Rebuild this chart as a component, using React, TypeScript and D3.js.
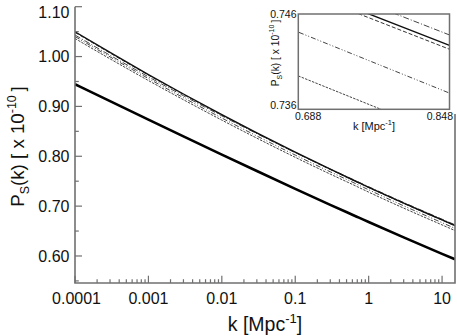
import { useEffect, useRef } from 'react';
import * as d3 from 'd3';

// k grid (Mpc^-1) and the curves, P_S in units of 1e-10
const K_VALUES = [0.0001, 0.0003, 0.001, 0.003, 0.01, 0.03, 0.1, 0.3, 0.688, 0.848, 1, 3, 10, 15];
const SOLID = [1.0497, 1.0082, 0.9639, 0.9249, 0.8835, 0.8469, 0.8081, 0.7740, 0.7489, 0.7427, 0.7378, 0.7059, 0.6723, 0.6610];
const DASHED = [1.0485, 1.0071, 0.9629, 0.9240, 0.8827, 0.8462, 0.8075, 0.7735, 0.7485, 0.7423, 0.7374, 0.7055, 0.6719, 0.6606];
const DASH_DOT = [1.0432, 1.0026, 0.9594, 0.9214, 0.8810, 0.8453, 0.8073, 0.7743, 0.7500, 0.7438, 0.7390, 0.7073, 0.6738, 0.6625];
const DASH_DOT_DOT = [1.0402, 0.9994, 0.9559, 0.9175, 0.8767, 0.8407, 0.8024, 0.7688, 0.7441, 0.7377, 0.7328, 0.7006, 0.6668, 0.6554];
const FINE_DASH = [1.0362, 0.9954, 0.9519, 0.9134, 0.8725, 0.8363, 0.7979, 0.7642, 0.7395, 0.7331, 0.7281, 0.6960, 0.6623, 0.6510];
const THICK = [0.9445, 0.9106, 0.8735, 0.8399, 0.8033, 0.7704, 0.7347, 0.7026, 0.6788, 0.6728, 0.6681, 0.6373, 0.6042, 0.5933];

const X_TICKS = [0.0001, 0.001, 0.01, 0.1, 1, 10];
const X_TICK_LABELS = ['0.0001', '0.001', '0.01', '0.1', '1', '10'];
const Y_TICKS = [0.6, 0.7, 0.8, 0.9, 1.0, 1.1];
const Y_TICK_LABELS = ['0.60', '0.70', '0.80', '0.90', '1.00', '1.10'];
const Y_MINOR = [0.55, 0.65, 0.75, 0.85, 0.95, 1.05];
const INSET_X = [0.688, 0.848];
const INSET_Y = [0.736, 0.746];

const SERIES = [
  { values: FINE_DASH, dash: '2.5,1.2', width: 1, color: '#444' },
  { values: DASH_DOT_DOT, dash: '5,2,1,2,1,2', width: 1, color: '#444' },
  { values: DASH_DOT, dash: '6,2,1,2', width: 1, color: '#444' },
  { values: DASHED, dash: '4,2', width: 1, color: '#333' },
  { values: SOLID, dash: null, width: 1.4, color: '#111' },
  { values: THICK, dash: null, width: 2.6, color: '#000' },
];

const FONT = '"Liberation Sans", Arial, sans-serif';
const AXIS = '#707070';

const App = () => {
  const svgRef = useRef(null);

  useEffect(() => {
    const width = 457;
    const height = 336;
    const plot = { left: 75, right: 455, top: 6.7, bottom: 283 };
    const inset = { left: 298.3, right: 449.5, top: 14, bottom: 109.3 };

    const svg = d3.select(svgRef.current);
    svg.selectAll('*').remove();
    svg.attr('width', width).attr('height', height);

    const x = d3.scaleLog().domain([0.0001, 15]).range([plot.left, plot.right]);
    const y = d3.scaleLinear().domain([0.5458, 1.10]).range([plot.bottom, plot.top]);

    const defs = svg.append('defs');
    defs.append('clipPath').attr('id', 'main-clip')
      .append('rect')
      .attr('x', plot.left).attr('y', plot.top)
      .attr('width', plot.right - plot.left).attr('height', plot.bottom - plot.top);
    defs.append('clipPath').attr('id', 'inset-clip')
      .append('rect')
      .attr('x', inset.left).attr('y', inset.top)
      .attr('width', inset.right - inset.left).attr('height', inset.bottom - inset.top);

    // curves
    const rows = SERIES.map(s => s.values.map((v, i) => [K_VALUES[i], v]));
    const line = d3.line()
      .x(d => x(d[0]))
      .y(d => y(d[1]))
      .curve(d3.curveMonotoneX);

    const curves = svg.append('g').attr('clip-path', 'url(#main-clip)');
    SERIES.forEach((s, i) => {
      curves.append('path')
        .attr('d', line(rows[i]))
        .attr('fill', 'none')
        .attr('stroke', s.color)
        .attr('stroke-width', s.width)
        .attr('stroke-dasharray', s.dash);
    });

    // frame (no top edge)
    const frame = svg.append('g').attr('stroke', AXIS).attr('stroke-width', 1.6).attr('fill', 'none');
    frame.append('path').attr('d', `M${plot.left},${plot.top}V${plot.bottom}H${plot.right}V${plot.top}`);

    // ticks
    const ticks = svg.append('g').attr('stroke', AXIS).attr('stroke-width', 1.2);
    x.ticks().forEach(t => {
      if (t < 0.0001 || t > 15) return;
      const major = X_TICKS.some(m => Math.abs(m - t) / m < 1e-6);
      const len = major ? 7.3 : 3.8;
      ticks.append('line')
        .attr('x1', x(t)).attr('x2', x(t))
        .attr('y1', plot.bottom).attr('y2', plot.bottom - len);
    });
    Y_TICKS.forEach(t => {
      ticks.append('line')
        .attr('x1', plot.left).attr('x2', plot.left + 7)
        .attr('y1', y(t)).attr('y2', y(t));
    });
    Y_MINOR.forEach(t => {
      ticks.append('line')
        .attr('x1', plot.left).attr('x2', plot.left + 3.8)
        .attr('y1', y(t)).attr('y2', y(t));
    });

    // tick labels
    const labels = svg.append('g').attr('font-family', FONT).attr('font-size', 16).attr('fill', '#111');
    X_TICKS.forEach((t, i) => {
      labels.append('text')
        .attr('x', x(t) + (i === 0 ? 1.5 : 0)).attr('y', 304)
        .attr('text-anchor', 'middle')
        .text(X_TICK_LABELS[i]);
    });
    Y_TICKS.forEach((t, i) => {
      const shift = t >= 1.1 ? 5.8 : 0;
      labels.append('text')
        .attr('x', 69.5).attr('y', y(t) + shift)
        .attr('dy', '0.36em')
        .attr('text-anchor', 'end')
        .text(Y_TICK_LABELS[i]);
    });

    // axis titles
    const xTitle = svg.append('text')
      .attr('x', 265).attr('y', 331)
      .attr('text-anchor', 'middle')
      .attr('font-family', FONT).attr('font-size', 19.5).attr('fill', '#111');
    xTitle.append('tspan').text('k [Mpc');
    xTitle.append('tspan').attr('dy', -8).attr('font-size', 13).text('-1');
    xTitle.append('tspan').attr('dy', 8).text(']');

    const yTitle = svg.append('text')
      .attr('transform', 'translate(23.5,146.5) rotate(-90)')
      .attr('text-anchor', 'middle')
      .attr('font-family', FONT).attr('font-size', 18.7).attr('fill', '#111');
    yTitle.append('tspan').text('P');
    yTitle.append('tspan').attr('dy', 5).attr('font-size', 12.5).text('S');
    yTitle.append('tspan').attr('dy', -5).text('(k) [ x 10');
    yTitle.append('tspan').attr('dy', -8).attr('font-size', 12.5).text('-10');
    yTitle.append('tspan').attr('dy', 8).text('\u2009]');

    // inset
    const ix = d3.scaleLinear().domain(INSET_X).range([inset.left, inset.right]);
    const iy = d3.scaleLinear().domain(INSET_Y).range([inset.bottom, inset.top]);

    svg.append('rect')
      .attr('x', 258).attr('y', 0)
      .attr('width', width - 258).attr('height', 114)
      .attr('fill', '#fff');

    const insetLine = d3.line()
      .x(d => ix(d[0]))
      .y(d => iy(d[1]));
    const insetCurves = svg.append('g').attr('clip-path', 'url(#inset-clip)');
    SERIES.forEach((s, i) => {
      insetCurves.append('path')
        .attr('d', insetLine(rows[i]))
        .attr('fill', 'none')
        .attr('stroke', s.color)
        .attr('stroke-width', s.width)
        .attr('stroke-dasharray', s.dash);
    });

    svg.append('rect')
      .attr('x', inset.left).attr('y', inset.top)
      .attr('width', inset.right - inset.left).attr('height', inset.bottom - inset.top)
      .attr('fill', 'none').attr('stroke', AXIS).attr('stroke-width', 1.5);

    const insetText = svg.append('g').attr('font-family', FONT).attr('font-size', 10.5).attr('fill', '#111');
    insetText.append('text').attr('x', 296.5).attr('y', 17.7).attr('text-anchor', 'end').text(INSET_Y[1].toFixed(3));
    insetText.append('text').attr('x', 296.5).attr('y', 109).attr('text-anchor', 'end').text(INSET_Y[0].toFixed(3));
    insetText.append('text').attr('x', 295).attr('y', 119.5).attr('text-anchor', 'start').text(INSET_X[0].toFixed(3));
    insetText.append('text').attr('x', 453).attr('y', 119.5).attr('text-anchor', 'end').text(INSET_X[1].toFixed(3));

    const ixTitle = insetText.append('text')
      .attr('x', 374).attr('y', 129.5)
      .attr('text-anchor', 'middle').attr('font-size', 11);
    ixTitle.append('tspan').text('k [Mpc');
    ixTitle.append('tspan').attr('dy', -5).attr('font-size', 7.5).text('-1');
    ixTitle.append('tspan').attr('dy', 5).text(']');

    const iyTitle = insetText.append('text')
      .attr('transform', 'translate(278.5,53) rotate(-90)')
      .attr('text-anchor', 'middle').attr('font-size', 10.3);
    iyTitle.append('tspan').text('P');
    iyTitle.append('tspan').attr('dy', 3).attr('font-size', 7).text('S');
    iyTitle.append('tspan').attr('dy', -3).text('(k) [ x 10');
    iyTitle.append('tspan').attr('dy', -5).attr('font-size', 7).text('-10');
    iyTitle.append('tspan').attr('dy', 5).text('\u2009]');
  }, []);

  return (
    <div style={{ position: 'absolute', left: 0, top: 0, background: '#fff' }}>
      <svg ref={svgRef} style={{ display: 'block' }} />
    </div>
  );
};

export default App;
